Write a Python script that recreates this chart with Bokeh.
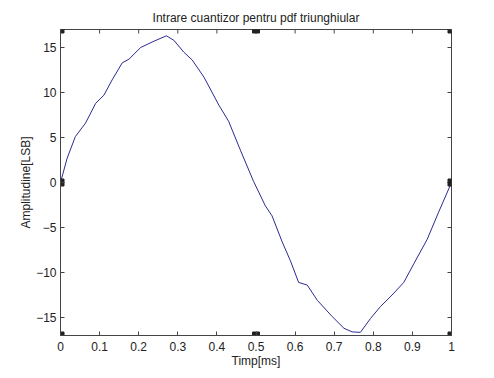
import math
from bokeh.plotting import figure
from bokeh.models import Range1d, FixedTicker
from bokeh.embed import file_html
from bokeh.resources import INLINE

# Data
t_ms = [0.0, 0.017, 0.038, 0.064, 0.09, 0.111, 0.132, 0.158, 0.175, 0.205, 0.239,
        0.271, 0.29, 0.315, 0.337, 0.367, 0.405, 0.43, 0.46, 0.494, 0.524, 0.541,
        0.567, 0.588, 0.609, 0.631, 0.657, 0.695, 0.725, 0.746, 0.767, 0.793,
        0.818, 0.848, 0.878, 0.904, 0.938, 0.967, 1.0]
amp = [0.0, 2.7, 5.1, 6.6, 8.8, 9.7, 11.4, 13.3, 13.7, 15.0, 15.7,
       16.3, 15.8, 14.5, 13.6, 11.7, 8.6, 6.8, 3.6, 0.1, -2.6, -3.7,
       -6.6, -8.7, -11.1, -11.4, -13.1, -14.9, -16.2, -16.6, -16.65, -15.1,
       -13.8, -12.5, -11.1, -9.0, -6.3, -3.3, 0.0]
x_ticks = [0, 0.1, 0.2, 0.3, 0.4, 0.5, 0.6, 0.7, 0.8, 0.9, 1]
y_ticks = [-15, -10, -5, 0, 5, 10, 15]
x_lim = [0, 1]
y_lim = [-17, 17]
handle_x = [0, 0.5, 1, 0, 1, 0, 0.5, 1]
handle_y = [17, 17, 17, 0, 0, -17, -17, -17]

FONT = "Liberation Sans"
AX = "#444444"
TXT = "#222222"

p = figure(width=486, height=370, output_backend="svg", toolbar_location=None,
           x_range=Range1d(*x_lim), y_range=Range1d(*y_lim),
           title="Intrare cuantizor pentru pdf triunghiular",
           min_border_left=60, min_border_right=35, min_border_top=29, min_border_bottom=34)
p.title.align = "center"
p.title.text_font = FONT
p.title.text_font_size = "12px"
p.title.text_font_style = "normal"
p.title.text_color = TXT

p.grid.visible = False
p.outline_line_color = AX
p.background_fill_color = "white"
p.border_fill_color = "white"

p.xaxis.ticker = FixedTicker(ticks=x_ticks)
p.yaxis.ticker = FixedTicker(ticks=y_ticks)
p.xaxis.axis_label = "Timp[ms]"
p.yaxis.axis_label = "Amplitudine[LSB]"
p.xaxis.major_label_overrides = {0: "0", 1: "1"}
for ax in (p.xaxis[0], p.yaxis[0]):
    ax.major_tick_in = 4
    ax.major_tick_out = 0
    ax.minor_tick_line_color = None
    ax.axis_line_color = AX
    ax.major_tick_line_color = AX
    ax.major_label_text_font = FONT
    ax.major_label_text_font_size = "12px"
    ax.major_label_text_color = TXT
    ax.axis_label_text_font = FONT
    ax.axis_label_text_font_size = "12px"
    ax.axis_label_text_font_style = "normal"
    ax.axis_label_text_color = TXT
p.xaxis.major_label_standoff = 6
p.xaxis.axis_label_standoff = 0
p.yaxis.major_label_standoff = 4
p.yaxis.axis_label_standoff = 0

# inward ticks on the top and right edges (MATLAB box style)
p.ray(x=x_ticks, y=[y_lim[1]] * len(x_ticks), angle=-math.pi / 2, length=4,
      length_units="screen", line_color=AX, line_width=1)
p.ray(x=[x_lim[1]] * len(y_ticks), y=y_ticks, angle=math.pi, length=4,
      length_units="screen", line_color=AX, line_width=1)

p.line(t_ms, amp, line_color="#2b2b8f", line_width=1)
p.scatter(handle_x, handle_y, marker="square", size=7, fill_color=TXT, line_color=TXT)

open("out.html", "w").write(file_html(p, INLINE))
